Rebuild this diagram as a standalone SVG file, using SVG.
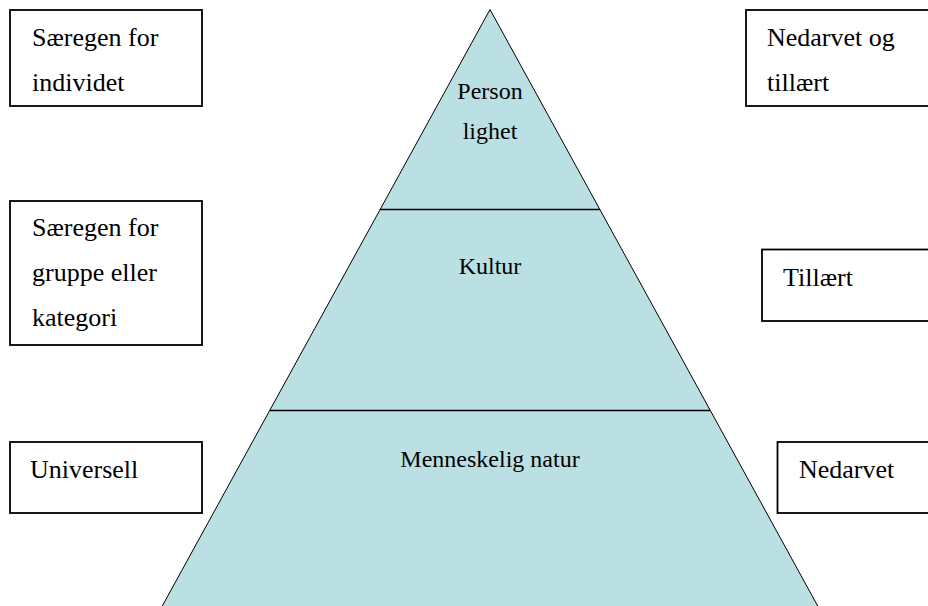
<svg xmlns="http://www.w3.org/2000/svg" width="928" height="606" viewBox="0 0 928 606">
<style>
.box{fill:#fff;stroke:#000;stroke-width:1.8}
.bt{font-family:"Liberation Serif","Times New Roman",serif;font-size:26px;fill:#000}
.pt{font-family:"Liberation Serif","Times New Roman",serif;font-size:24px;fill:#000;text-anchor:middle}
.pyr{fill:#BBE0E3;stroke:#000;stroke-width:1}
.div{stroke:#000;stroke-width:1.5}
</style>
<rect width="928" height="606" fill="#fff"/>
<g id="pyramid">
<polygon class="pyr" points="490,9.5 162,606.5 818,606.5"/>
</g>
<g id="connectors">
<line class="div" x1="380" y1="209.5" x2="600" y2="209.5"/>
<line class="div" x1="270" y1="410.5" x2="710" y2="410.5"/>
</g>
<g id="personlighet">
<text class="pt" x="490" y="99">Person</text>
<text class="pt" x="490" y="139">lighet</text>
</g>
<g id="kultur">
<text class="pt" x="490" y="274">Kultur</text>
</g>
<g id="menneskelig-natur">
<text class="pt" x="490" y="467">Menneskelig natur</text>
</g>
<g id="saeregen-individ">
<rect class="box" x="10" y="10" width="192" height="96"/>
<text class="bt" x="32" y="46">Særegen for</text>
<text class="bt" x="32" y="91">individet</text>
</g>
<g id="saeregen-gruppe">
<rect class="box" x="10" y="201" width="192" height="144"/>
<text class="bt" x="32" y="236">Særegen for</text>
<text class="bt" x="32" y="281">gruppe eller</text>
<text class="bt" x="32" y="326">kategori</text>
</g>
<g id="universell">
<rect class="box" x="10" y="442" width="192" height="71"/>
<text class="bt" x="30" y="478">Universell</text>
</g>
<g id="nedarvet-tillaert">
<rect class="box" x="746" y="10" width="200" height="96"/>
<text class="bt" x="767" y="46">Nedarvet og</text>
<text class="bt" x="767" y="91">tillært</text>
</g>
<g id="tillaert">
<rect class="box" x="762" y="249.5" width="200" height="71.5"/>
<text class="bt" x="783" y="286">Tillært</text>
</g>
<g id="nedarvet">
<rect class="box" x="777.5" y="442" width="200" height="71"/>
<text class="bt" x="799" y="478">Nedarvet</text>
</g>
</svg>
